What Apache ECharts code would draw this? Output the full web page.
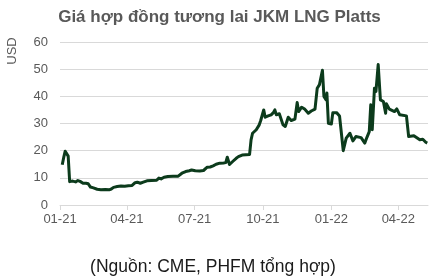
<!DOCTYPE html>
<html>
<head>
<meta charset="utf-8">
<script src="https://cdn.jsdelivr.net/npm/echarts@6/dist/echarts.min.js"></script>
<style>html,body{margin:0;padding:0;background:#fff}#c{width:439px;height:278px}</style>
</head>
<body>
<div id="c"></div>
<script>
var titleText = 'Giá hợp đồng tương lai JKM LNG Platts';
var sourceText = '(Nguồn: CME, PHFM tổng hợp)';
var yName = 'USD';
var yTicks = [0, 10, 20, 30, 40, 50, 60];
var xTickDates = ['2021-01-01', '2021-04-01', '2021-07-01', '2021-10-01', '2022-01-01', '2022-04-01'];
var xTickLabels = ['01-21', '04-21', '07-21', '10-21', '01-22', '04-22'];
var dates = [
'2021-01-04','2021-01-06','2021-01-08','2021-01-10','2021-01-12','2021-01-14','2021-01-18','2021-01-22','2021-01-25','2021-01-28',
'2021-02-01','2021-02-05','2021-02-08','2021-02-11','2021-02-15','2021-02-20','2021-02-25','2021-03-03','2021-03-08','2021-03-11',
'2021-03-14','2021-03-19','2021-03-24','2021-03-29','2021-04-03','2021-04-08','2021-04-12','2021-04-15','2021-04-19','2021-04-23',
'2021-04-28','2021-05-04','2021-05-11','2021-05-14','2021-05-17','2021-05-21','2021-05-26','2021-06-02','2021-06-09','2021-06-14',
'2021-06-19','2021-06-24','2021-06-27','2021-07-02','2021-07-08','2021-07-13','2021-07-18','2021-07-22','2021-07-26','2021-07-30',
'2021-08-04','2021-08-09','2021-08-12','2021-08-14','2021-08-17','2021-08-22','2021-08-26','2021-08-29','2021-09-03','2021-09-08',
'2021-09-13','2021-09-15','2021-09-17','2021-09-22','2021-09-26','2021-09-28','2021-10-02','2021-10-04','2021-10-08','2021-10-12',
'2021-10-15','2021-10-17','2021-10-19','2021-10-23','2021-10-28','2021-10-31','2021-11-04','2021-11-08','2021-11-13','2021-11-16',
'2021-11-18','2021-11-22','2021-11-26','2021-12-01','2021-12-05','2021-12-10','2021-12-13','2021-12-16','2021-12-20','2021-12-22',
'2021-12-25','2021-12-26','2021-12-28','2022-01-01','2022-01-03','2022-01-08','2022-01-12','2022-01-14','2022-01-17','2022-01-21',
'2022-01-26','2022-01-30','2022-02-03','2022-02-10','2022-02-15','2022-02-18','2022-02-21','2022-02-23','2022-02-25','2022-02-28',
'2022-03-02','2022-03-05','2022-03-08','2022-03-12','2022-03-15','2022-03-16','2022-03-20','2022-03-27','2022-03-30','2022-04-03',
'2022-04-12','2022-04-15','2022-04-22','2022-04-30','2022-05-04','2022-05-08','2022-05-10'
];
var prices = [
14.8,17.5,19.8,19.5,18.0,8.6,8.8,8.5,9.0,8.7,
8.0,8.0,7.8,6.6,6.3,5.8,5.6,5.7,5.6,5.9,
6.5,6.8,7.0,6.9,7.1,7.2,8.2,8.4,8.0,8.4,
8.9,9.0,9.1,9.9,9.6,10.2,10.5,10.6,10.6,11.7,
12.3,12.6,12.9,12.6,12.5,12.7,13.9,14.0,14.4,15.0,
15.4,15.5,15.6,17.6,14.9,16.2,17.2,17.8,18.4,18.5,
18.6,24.0,26.4,27.7,29.5,31.1,35.0,32.3,32.8,33.2,
34.0,35.0,33.2,33.6,29.5,28.9,32.3,31.1,31.6,37.7,
34.4,36.0,35.3,33.8,34.6,35.3,43.0,44.3,49.6,40.0,
38.7,41.2,30.1,29.8,34.0,34.0,32.8,27.7,20.0,24.6,
26.4,23.6,25.2,24.8,22.8,25.0,27.0,36.9,27.7,43.0,
41.8,51.7,38.7,38.1,33.8,37.3,35.3,34.4,35.4,33.2,
32.8,25.2,25.5,24.0,24.2,23.1,22.8
];
var xMin = '2021-01-01';
var xMax = '2022-05-11';

// day number since xMin (UTC-based to avoid DST shifts)
function dayNum(s){ var p = s.split('-'); return Date.UTC(+p[0], +p[1]-1, +p[2]) / 86400000; }
var base = dayNum(xMin);
function dx(s){ return dayNum(s) - base; }
var seriesData = dates.map(function(d, i){ return [dx(d), prices[i]]; });
var tickVals = xTickDates.map(dx);

var FONT = 'Liberation Sans, Arial, sans-serif';
var chart = echarts.init(document.getElementById('c'), null, {renderer: 'canvas'});
chart.setOption({
  animation: false,
  backgroundColor: '#fff',
  textStyle: {fontFamily: FONT},
  title: {
    text: titleText, left: 'center', top: 4,
    textStyle: {fontSize: 17, fontWeight: 'bold', color: '#595959', fontFamily: FONT}
  },
  grid: {left: 60, right: 11, top: 42, bottom: 73, containLabel: false, outerBoundsMode: 'none'},
  xAxis: {
    type: 'value', min: 0, max: dx(xMax),
    axisLine: {show: true, lineStyle: {color: '#d9d9d9', width: 1}},
    axisTick: {show: true, customValues: tickVals, length: 5, lineStyle: {color: '#d9d9d9'}},
    axisLabel: {
      customValues: tickVals, color: '#595959', fontSize: 13, margin: 8,
      formatter: function(v){ var i = tickVals.indexOf(Math.round(v)); return i >= 0 ? xTickLabels[i] : ''; }
    },
    splitLine: {show: false}
  },
  yAxis: {
    type: 'value', min: yTicks[0], max: yTicks[yTicks.length-1], interval: 10,
    axisLine: {show: false}, axisTick: {show: false},
    axisLabel: {color: '#595959', fontSize: 13, margin: 12},
    splitLine: {lineStyle: {color: '#d9d9d9', width: 1}}
  },
  graphic: [
    {type: 'text', x: 12, y: 51, rotation: Math.PI/2,
     style: {text: yName, fill: '#595959', fontSize: 13, align: 'center', verticalAlign: 'middle', fontFamily: FONT}},
    {type: 'text', x: 213, y: 267,
     style: {text: sourceText, fill: '#1a1a1a', fontSize: 17.5, align: 'center', verticalAlign: 'middle', fontFamily: FONT}}
  ],
  series: [{
    type: 'line', data: seriesData, showSymbol: false, symbol: 'none',
    lineStyle: {color: '#0c3b1c', width: 3, join: 'round'}
  }]
});
</script>
</body>
</html>
